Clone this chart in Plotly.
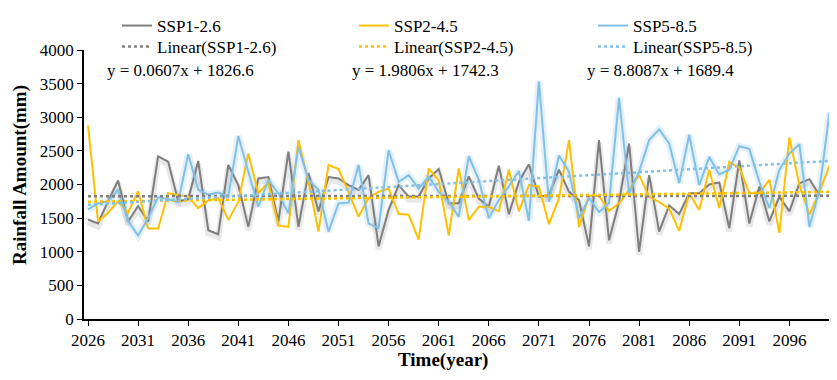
import numpy as np
import plotly.graph_objects as go

years = list(range(2026, 2101))

ssp126 = [1480, 1420, 1750, 2060, 1450, 1680, 1450, 2420, 2340, 1750,
          1780, 2350, 1320, 1260, 2290, 1990, 1370, 2090, 2110, 1450,
          2490, 1370, 2170, 1600, 2110, 2090, 1990, 1920, 2140, 1080,
          1620, 1990, 1820, 1820, 2090, 2230, 1720, 1720, 2120, 1790,
          1670, 2280, 1560, 2040, 2300, 1820, 1840, 2220, 1890, 1770,
          1080, 2660, 1170, 1740, 2610, 1000, 2140, 1300, 1690, 1560,
          1870, 1870, 2000, 2030, 1350, 2360, 1420, 1970, 1450, 1820,
          1600, 2020, 2080, 1840]

ssp245 = [2880, 1450, 1580, 1750, 1580, 1900, 1345, 1345, 1870, 1840,
          1820, 1650, 1760, 1800, 1470, 1740, 2460, 1870, 2030, 1390,
          1370, 2660, 2040, 1300, 2290, 2230, 1890, 1520, 1800, 1890,
          1940, 1560, 1550, 1180, 2240, 2060, 1240, 2240, 1470, 1670,
          1670, 1600, 2220, 1600, 1990, 1970, 1410, 1790, 2660, 1370,
          1830, 1830, 1610, 1720, 1920, 2140, 1820, 1740, 1640, 1310,
          1870, 1620, 2220, 1650, 2330, 2250, 1870, 1870, 2070, 1280,
          2700, 1990, 1550, 1890, 2280]

ssp585 = [1630, 1720, 1750, 1920, 1460, 1240, 1500, 1810, 1780, 1740,
          2450, 1920, 1850, 1880, 1820, 2720, 2190, 1670, 2070, 1870,
          1570, 2560, 2070, 1920, 1300, 1720, 1730, 2290, 1420, 1350,
          2510, 2040, 2140, 1940, 2120, 1890, 1740, 1520, 2420, 2070,
          1500, 1770, 1970, 2200, 1460, 3530, 1740, 2430, 2190, 1500,
          1800, 1590, 1720, 3290, 1870, 2190, 2660, 2820, 2610, 2020,
          2740, 1990, 2410, 2150, 2220, 2570, 2530, 2040, 1650, 2220,
          2460, 2600, 1370, 1920, 3070]

series_names = ["SSP1-2.6", "SSP2-4.5", "SSP5-8.5"]
trend_slopes = [0.0607, 1.9806, 8.8087]
trend_intercepts = [1826.6, 1742.3, 1689.4]
equation_labels = ["y = 0.0607x + 1826.6", "y = 1.9806x + 1742.3", "y = 8.8087x + 1689.4"]
x_tick_values = list(range(2026, 2100, 5))
x_tick_labels = [str(y) for y in x_tick_values]

colors = ["#7F7F7F", "#FFC000", "#82C0E6"]
FONT = "Liberation Serif, Times New Roman, serif"

# page offset (default body margin) and figure geometry, reference-pixel based
OFF = 8
W, H = 837 - OFF, 380 - OFF
PLOT_L, PLOT_R, PLOT_T, PLOT_B = 84, 833, 50, 319  # reference pixels
L, T = PLOT_L - OFF, PLOT_T - OFF
R, B = W - (PLOT_R - OFF), H - (PLOT_B - OFF)
pw, ph = PLOT_R - PLOT_L, PLOT_B - PLOT_T

def px_x(x):
    return (x - PLOT_L) / pw

def px_y(y):
    return (PLOT_B - y) / ph

fig = go.Figure()
data = [ssp126, ssp245, ssp585]

# soft glow / shadow effects (styling only)
fig.add_trace(go.Scatter(x=years[:len(ssp585)], y=ssp585, mode="lines",
                         line=dict(color="rgba(130,192,230,0.22)", width=7),
                         showlegend=False, hoverinfo="skip"))
fig.add_trace(go.Scatter(x=years[:len(ssp126)], y=[v - 45 for v in ssp126], mode="lines",
                         line=dict(color="rgba(110,110,110,0.16)", width=6),
                         showlegend=False, hoverinfo="skip"))

legend_ids = ["legend", "legend2", "legend3", "legend4", "legend5", "legend6"]
col_text_x = [157, 394, 633]

for i, (name, vals, c) in enumerate(zip(series_names, data, colors)):
    fig.add_trace(go.Scatter(x=years[:len(vals)], y=vals, mode="lines", name=name,
                             line=dict(color=c, width=2), legend=legend_ids[i]))

for i, (name, s, b, c) in enumerate(zip(series_names, trend_slopes, trend_intercepts, colors)):
    idx = np.arange(1, len(years) + 1)
    fig.add_trace(go.Scatter(x=years, y=s * idx + b, mode="lines",
                             name=f"Linear({name})",
                             line=dict(color=c, width=2.5, dash="dot"),
                             legend=legend_ids[3 + i]))

eq_x = [105, 350, 585]
for txt, xp in zip(equation_labels, eq_x):
    fig.add_annotation(text=txt, x=px_x(xp), y=px_y(70), xref="paper", yref="paper",
                       xanchor="left", yanchor="middle", showarrow=False,
                       font=dict(family=FONT, size=17, color="black"))

fig.add_annotation(text="<b>Rainfall Amount(mm)</b>", x=px_x(20), y=px_y(175),
                   xref="paper", yref="paper", textangle=-90, showarrow=False,
                   xanchor="center", yanchor="middle",
                   font=dict(family=FONT, size=19, color="black"))
fig.add_annotation(text="<b>Time(year)</b>", x=px_x(443), y=px_y(360),
                   xref="paper", yref="paper", showarrow=False,
                   xanchor="center", yanchor="middle",
                   font=dict(family=FONT, size=19, color="black"))

legends = {}
for r in range(2):
    for col in range(3):
        lid = legend_ids[r * 3 + col]
        if r == 0:
            ypos, yanc = 1.0, "top"
        else:
            ypos, yanc = 1 - (47 - OFF) / H, "middle"
        legends[lid] = dict(
            xref="container", yref="container",
            x=(col_text_x[col] - 40 - OFF) / W, y=ypos,
            xanchor="left", yanchor=yanc, orientation="h",
            font=dict(family=FONT, size=17, color="black"),
            bgcolor="rgba(0,0,0,0)", borderwidth=0)

fig.update_layout(
    width=W, height=H,
    margin=dict(l=L, r=R, t=T, b=B, autoexpand=False),
    paper_bgcolor="white", plot_bgcolor="white",
    font=dict(family=FONT, size=17, color="black"),
    showlegend=True,
    xaxis=dict(range=[2025.6, 2100.35], tickvals=x_tick_values,
               ticktext=x_tick_labels, showgrid=False, zeroline=False,
               showline=True, linecolor="black", linewidth=1.5,
               ticks="outside", ticklen=5, tickcolor="black", automargin=False,
               tickfont=dict(family=FONT, size=17, color="black")),
    yaxis=dict(range=[0, 4000], dtick=500, showgrid=False, zeroline=False,
               showline=True, linecolor="black", linewidth=1.5,
               ticks="outside", ticklen=5, tickcolor="black", automargin=False,
               tickfont=dict(family=FONT, size=17, color="black")),
    **legends,
)

fig.write_html("out.html")
